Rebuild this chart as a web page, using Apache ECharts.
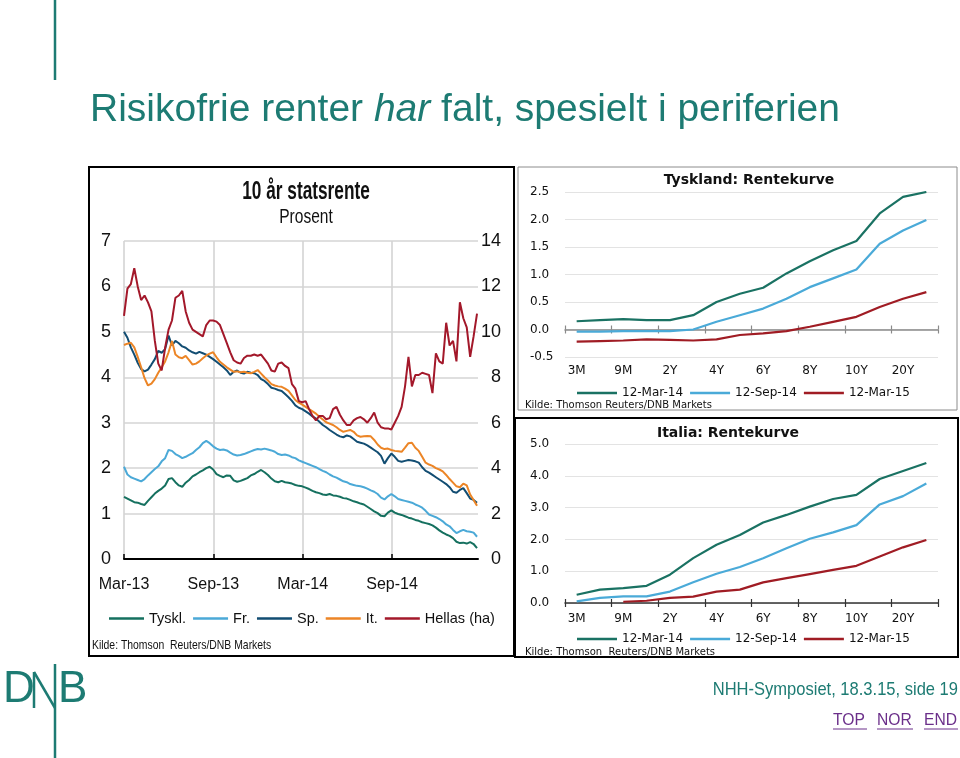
<!DOCTYPE html>
<html><head><meta charset="utf-8">
<script src="https://cdn.jsdelivr.net/npm/echarts@6/dist/echarts.min.js"></script>
<style>html,body{margin:0;padding:0;background:#fff}#c{width:960px;height:758px}</style>
</head><body><div id="c"></div>
<script>
// ---------- DATA: 10-year government yields, weekly from 1 Mar 2013 ----------
var timeTickLabels = ['Mar-13', 'Sep-13', 'Mar-14', 'Sep-14'];
var seriesNames = ['Tyskl.', 'Fr.', 'Sp.', 'It.', 'Hellas (ha)'];
var tysklRate = [1.37,1.33,1.29,1.25,1.24,1.21,1.19,1.28,1.36,1.44,
  1.50,1.55,1.62,1.76,1.78,1.69,1.62,1.59,1.68,1.74,
  1.82,1.86,1.91,1.95,2.00,2.03,1.97,1.87,1.83,1.80,
  1.84,1.83,1.73,1.70,1.72,1.75,1.78,1.84,1.87,1.92,
  1.96,1.91,1.85,1.77,1.71,1.69,1.72,1.69,1.68,1.66,
  1.63,1.61,1.60,1.57,1.54,1.50,1.47,1.45,1.42,1.41,
  1.43,1.40,1.39,1.37,1.34,1.33,1.30,1.27,1.25,1.22,
  1.20,1.15,1.10,1.05,1.01,0.95,0.94,1.02,1.07,1.02,
  0.99,0.97,0.94,0.91,0.89,0.86,0.84,0.81,0.79,0.77,
  0.74,0.69,0.63,0.58,0.54,0.51,0.46,0.38,0.35,0.36,
  0.34,0.37,0.33,0.24];
var frRate = [2.03,1.86,1.80,1.77,1.74,1.71,1.76,1.84,1.91,1.98,
  2.04,2.15,2.22,2.40,2.38,2.31,2.27,2.22,2.25,2.29,
  2.33,2.40,2.46,2.55,2.60,2.55,2.48,2.43,2.40,2.41,
  2.39,2.34,2.30,2.28,2.29,2.31,2.34,2.37,2.40,2.42,
  2.41,2.43,2.41,2.39,2.36,2.31,2.29,2.30,2.28,2.24,
  2.22,2.17,2.14,2.11,2.08,2.05,2.02,1.98,1.94,1.91,
  1.86,1.82,1.79,1.75,1.71,1.69,1.65,1.63,1.61,1.60,
  1.58,1.55,1.51,1.48,1.43,1.35,1.31,1.38,1.43,1.38,
  1.32,1.30,1.28,1.26,1.24,1.20,1.17,1.13,1.06,0.98,
  0.95,0.92,0.88,0.83,0.76,0.72,0.64,0.57,0.61,0.64,
  0.61,0.60,0.58,0.49];
var spRate = [5.00,4.87,4.66,4.50,4.32,4.18,4.13,4.17,4.28,4.40,
  4.58,4.54,4.62,4.92,4.70,4.80,4.75,4.68,4.65,4.59,
  4.55,4.52,4.56,4.53,4.50,4.45,4.40,4.34,4.28,4.22,
  4.15,4.05,4.12,4.15,4.10,4.08,4.12,4.10,4.09,4.05,
  3.96,3.92,3.85,3.77,3.75,3.72,3.70,3.63,3.56,3.48,
  3.38,3.33,3.30,3.25,3.20,3.14,3.09,3.02,2.95,2.90,
  2.84,2.79,2.74,2.70,2.68,2.72,2.70,2.64,2.58,2.56,
  2.54,2.50,2.45,2.40,2.35,2.27,2.10,2.22,2.32,2.25,
  2.16,2.14,2.16,2.18,2.17,2.15,2.12,2.02,1.94,1.90,
  1.85,1.80,1.75,1.70,1.65,1.58,1.48,1.46,1.52,1.56,
  1.45,1.33,1.30,1.24];
var itRate = [4.71,4.74,4.76,4.66,4.45,4.22,3.98,3.82,3.86,3.96,
  4.10,4.22,4.35,4.55,4.80,4.50,4.44,4.42,4.47,4.38,
  4.28,4.30,4.35,4.42,4.48,4.52,4.55,4.44,4.34,4.28,
  4.22,4.17,4.12,4.13,4.11,4.12,4.10,4.09,4.12,4.16,
  4.08,4.00,3.93,3.85,3.82,3.80,3.79,3.75,3.70,3.60,
  3.50,3.44,3.40,3.35,3.30,3.25,3.20,3.13,3.07,3.01,
  2.98,2.95,2.90,2.84,2.80,2.82,2.84,2.80,2.72,2.69,
  2.70,2.71,2.70,2.62,2.52,2.45,2.42,2.43,2.40,2.38,
  2.37,2.36,2.45,2.55,2.56,2.45,2.38,2.25,2.12,2.08,
  2.05,2.00,1.97,1.93,1.85,1.76,1.68,1.60,1.58,1.66,
  1.62,1.42,1.30,1.17];
var hellasRate = [10.7,11.9,12.1,12.8,12.0,11.4,11.6,11.3,10.9,9.6,
  8.6,8.3,9.3,10.1,10.5,11.5,11.6,11.8,10.9,10.4,
  10.1,10.0,9.9,9.8,10.3,10.5,10.5,10.45,10.3,9.9,
  9.5,9.1,8.75,8.65,8.6,8.85,8.95,8.95,9.0,8.95,
  9.0,8.8,8.6,8.3,8.25,8.6,8.65,8.5,8.4,7.7,
  7.5,6.95,6.9,6.95,6.6,6.3,6.1,6.3,6.3,6.15,
  6.2,6.6,6.7,6.35,6.1,5.9,5.9,6.1,6.2,6.25,
  6.15,6.0,6.2,6.45,6.0,5.8,5.75,5.75,5.7,6.0,
  6.3,6.7,7.6,8.9,7.6,8.1,8.1,8.2,8.15,8.1,
  7.3,9.05,8.7,8.6,10.4,9.4,9.6,8.7,11.3,10.6,
  10.2,8.9,9.8,10.8];

// ---------- DATA: yield curves ----------
var maturities = ['3M','6M','9M','1Y','2Y','3Y','4Y','5Y','6Y','7Y','8Y','9Y','10Y','15Y','20Y','30Y'];
var curveDates = ['12-Mar-14', '12-Sep-14', '12-Mar-15'];
var deMar14 = [0.15,0.17,0.19,0.17,0.17,0.26,0.50,0.65,0.76,1.02,1.24,1.44,1.61,2.11,2.41,2.50];
var deSep14 = [-0.04,-0.04,-0.03,-0.03,-0.03,0.00,0.14,0.26,0.38,0.56,0.77,0.93,1.09,1.56,1.80,1.99];
var deMar15 = [-0.22,-0.21,-0.20,-0.18,-0.19,-0.20,-0.18,-0.10,-0.07,-0.03,0.05,0.14,0.23,0.41,0.56,0.68];
var itMar14 = [0.26,0.42,0.47,0.54,0.89,1.41,1.83,2.14,2.53,2.77,3.03,3.27,3.40,3.90,4.15,4.40];
var itSep14 = [0.05,0.16,0.21,0.21,0.36,0.65,0.92,1.13,1.41,1.72,2.02,2.22,2.45,3.10,3.36,3.76];
var itMar15 = [null,null,0.04,0.07,0.16,0.20,0.36,0.42,0.65,0.78,0.91,1.04,1.17,1.46,1.75,1.98];

// ---------- build ----------
var DAYS_PER_WEEK = 7, HALF_YEAR = 182.5;
function weekly(arr) { return arr.map(function (v, i) { return [i * DAYS_PER_WEEK, v]; }); }

var ARIAL = "'Liberation Sans',Arial,sans-serif";
var WIDE = "'DejaVu Sans',sans-serif";
var TEAL = '#1d7b73';
var cLeft = ['#15705f', '#4ba9d7', '#124d72', '#ec8526', '#a3182a'];
var cCurve = ['#1a7263', '#4aaad8', '#a01c24'];

var chart = echarts.init(document.getElementById('c'), null, { renderer: 'canvas' });

function curveX(grid, o) {
  return [
    { type: 'category', gridIndex: grid, data: maturities, position: 'bottom',
      axisLine: { show: true, onZero: true, onZeroAxisIndex: o.yIdx, lineStyle: { color: o.lineColor, width: 1.5 } },
      axisTick: { show: true, inside: false, length: 4, lineStyle: { color: o.lineColor, width: 1.2 } },
      axisLabel: { show: false }, splitLine: { show: false } },
    { type: 'category', gridIndex: grid, data: maturities, position: 'bottom',
      axisLine: { show: false, onZero: true, onZeroAxisIndex: o.yIdx },
      axisTick: { show: true, inside: true, length: 4, lineStyle: { color: o.lineColor, width: 1.2 } },
      axisLabel: { show: false }, splitLine: { show: false } },
    { type: 'category', gridIndex: grid, data: maturities, position: 'bottom',
      axisLine: { show: false, onZero: false }, axisTick: { show: false },
      axisLabel: { show: true, interval: 1, margin: o.margin, color: '#111', fontFamily: WIDE, fontSize: 12 },
      splitLine: { show: false } }
  ];
}

var xAxes = [
  { type: 'value', gridIndex: 0, min: 0, max: 723, interval: HALF_YEAR,
    axisLine: { show: true, onZero: false, lineStyle: { color: '#000', width: 2 } },
    axisTick: { show: true, inside: true, length: 5, lineStyle: { color: '#000', width: 1.5 } },
    axisLabel: { show: true, margin: 18, color: '#111', fontFamily: ARIAL, fontSize: 16, showMaxLabel: false,
      formatter: function (v) { var k = Math.round(v / HALF_YEAR); return Math.abs(v - k * HALF_YEAR) < 0.5 ? (timeTickLabels[k] || '') : ''; } },
    splitLine: { show: true, showMaxLine: false, lineStyle: { color: '#d4d4d4', width: 1.6 } } }
].concat(curveX(1, { yIdx: 2, lineColor: '#8a8a8a', margin: 8 }))
 .concat(curveX(2, { yIdx: 3, lineColor: '#333', margin: 10 }));

var yAxes = [
  { type: 'value', gridIndex: 0, min: 0, max: 7, interval: 1, position: 'left',
    axisLine: { show: false }, axisTick: { show: false },
    axisLabel: { margin: 13, color: '#111', fontFamily: ARIAL, fontSize: 18 },
    splitLine: { show: true, lineStyle: { color: '#d4d4d4', width: 1.6 } } },
  { type: 'value', gridIndex: 0, min: 0, max: 14, interval: 2, position: 'right',
    axisLine: { show: false }, axisTick: { show: false },
    axisLabel: { margin: 23, align: 'right', color: '#111', fontFamily: ARIAL, fontSize: 18 },
    splitLine: { show: false } },
  { type: 'value', gridIndex: 1, min: -0.5, max: 2.5, interval: 0.5,
    axisLine: { show: false }, axisTick: { show: false },
    axisLabel: { margin: 35, align: 'left', color: '#111', fontFamily: WIDE, fontSize: 12,
      formatter: function (v) { return v.toFixed(1); } },
    splitLine: { show: true, lineStyle: { color: '#e3e3e3', width: 1 } } },
  { type: 'value', gridIndex: 2, min: 0, max: 5, interval: 1,
    axisLine: { show: false }, axisTick: { show: false },
    axisLabel: { margin: 35, align: 'left', color: '#111', fontFamily: WIDE, fontSize: 12,
      formatter: function (v) { return v.toFixed(1); } },
    splitLine: { show: true, lineStyle: { color: '#e3e3e3', width: 1 } } }
];

var leftData = [tysklRate, frRate, spRate, itRate, hellasRate];
var series = leftData.map(function (arr, k) {
  return { name: seriesNames[k], type: 'line', xAxisIndex: 0, yAxisIndex: k === 4 ? 1 : 0,
    data: weekly(arr), showSymbol: false, symbol: 'none', animation: false,
    lineStyle: { color: cLeft[k], width: 2 }, itemStyle: { color: cLeft[k] } };
});
[[deMar14, deSep14, deMar15], [itMar14, itSep14, itMar15]].forEach(function (grp, g) {
  grp.forEach(function (arr, k) {
    series.push({ name: curveDates[k], type: 'line', xAxisIndex: 1 + g * 3, yAxisIndex: 2 + g,
      data: arr, showSymbol: false, symbol: 'none', animation: false, connectNulls: false,
      lineStyle: { color: cCurve[k], width: 2.2 }, itemStyle: { color: cCurve[k] } });
  });
});

// text helper; sx < 1 compresses horizontally (narrow look of the original)
function txt(x, y, text, font, size, opts) {
  opts = opts || {};
  return { type: 'text', silent: true, z: 10, x: x, y: y, scaleX: opts.sx || 1,
    style: { x: 0, y: 0, text: text, fontFamily: font, fontSize: size,
      fontWeight: opts.bold ? 'bold' : 'normal', fill: opts.color || '#111', align: opts.align || 'left', verticalAlign: 'middle' } };
}
function rect(x, y, w, h, stroke, lw) {
  return { type: 'rect', silent: true, z: 1, shape: { x: x, y: y, width: w, height: h }, style: { fill: 'none', stroke: stroke, lineWidth: lw } };
}
function line(x1, y1, x2, y2, stroke, lw) {
  return { type: 'line', silent: true, z: 10, shape: { x1: x1, y1: y1, x2: x2, y2: y2 }, style: { stroke: stroke, lineWidth: lw } };
}

var graphics = [
  // slide title
  { type: 'text', silent: true, x: 90, y: 110, style: { x: 0, y: 0, verticalAlign: 'middle',
      text: '{a|Risikofrie renter }{b|har}{a| falt, spesielt i periferien}',
      rich: { a: { fontSize: 39, fontFamily: ARIAL, fill: TEAL }, b: { fontSize: 39, fontFamily: ARIAL, fill: TEAL, fontStyle: 'italic' } } } },
  // chart frames
  rect(89, 167, 425, 489, '#000', 2),
  rect(518, 167, 439, 243, '#8c8c8c', 1),
  rect(515, 418, 443, 239, '#000', 2),
  // left chart titles
  txt(306, 192, '10 år statsrente', ARIAL, 25, { bold: true, align: 'center', sx: 0.69 }),
  txt(306, 217, 'Prosent', ARIAL, 21, { align: 'center', sx: 0.74 }),
  txt(92, 645, 'Kilde: Thomson  Reuters/DNB Markets', ARIAL, 13, { sx: 0.8 }),
  // right charts titles / sources
  txt(749, 180, 'Tyskland: Rentekurve', WIDE, 14, { bold: true, align: 'center' }),
  txt(525, 405, 'Kilde: Thomson Reuters/DNB Markets', WIDE, 10),
  txt(728, 433, 'Italia: Rentekurve', WIDE, 14, { bold: true, align: 'center' }),
  txt(525, 652, 'Kilde: Thomson  Reuters/DNB Markets', WIDE, 10),
  // DNB vertical rule and logo
  line(55, 0, 55, 80, TEAL, 2.5),
  line(55, 664, 55, 758, TEAL, 2.5),
  txt(3, 690, 'D', ARIAL, 44, { color: TEAL }),
  txt(58, 690, 'B', ARIAL, 44, { color: TEAL }),
  line(34, 708, 34, 672, TEAL, 2.5),
  line(34, 672, 55, 708, TEAL, 2.5),
  // footer
  txt(958, 690, 'NHH-Symposiet, 18.3.15, side 19', ARIAL, 19, { color: TEAL, align: 'right', sx: 0.87 }),
  txt(833, 720, 'TOP', ARIAL, 17, { color: '#6b2f8a', sx: 0.92 }),
  txt(877, 720, 'NOR', ARIAL, 17, { color: '#6b2f8a', sx: 0.92 }),
  txt(924, 720, 'END', ARIAL, 17, { color: '#6b2f8a', sx: 0.92 }),
  line(833, 729, 867, 729, '#6b2f8a', 1),
  line(877, 729, 913, 729, '#6b2f8a', 1),
  line(924, 729, 958, 729, '#6b2f8a', 1)
];

var legendBase = { selectedMode: false, icon: 'rect', orient: 'horizontal' };
chart.setOption({
  animation: false,
  backgroundColor: '#fff',
  grid: [
    { left: 124, top: 241, width: 354, height: 318 },
    { left: 565, top: 192, width: 373, height: 165 },
    { left: 565, top: 444, width: 373, height: 159 }
  ],
  xAxis: xAxes,
  yAxis: yAxes,
  legend: [
    Object.assign({}, legendBase, { data: seriesNames, left: 104, top: 606, itemWidth: 35, itemHeight: 2.5, itemGap: 7,
      textStyle: { fontFamily: ARIAL, fontSize: 14.5, color: '#111' } }),
    Object.assign({}, legendBase, { data: curveDates, left: 572, top: 382, itemWidth: 40, itemHeight: 2.5, itemGap: 7,
      textStyle: { fontFamily: WIDE, fontSize: 12, color: '#111' } }),
    Object.assign({}, legendBase, { data: curveDates, left: 572, top: 628, itemWidth: 40, itemHeight: 2.5, itemGap: 7,
      textStyle: { fontFamily: WIDE, fontSize: 12, color: '#111' } })
  ],
  series: series,
  graphic: graphics
});
</script></body></html>
